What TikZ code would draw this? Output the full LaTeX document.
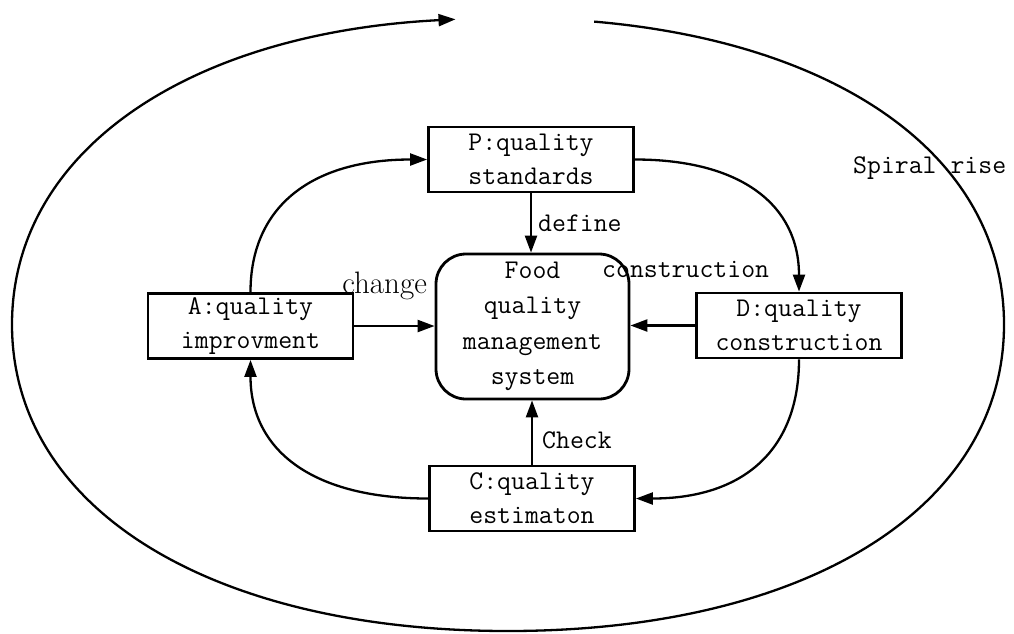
\documentclass[tikz,border=0pt]{standalone}
\usepackage{fontspec}
\usetikzlibrary{arrows.meta}
\newcommand\mymono{\fontsize{27}{34}\selectfont\ttfamily}
\newcommand\mycore{\fontsize{27}{35.5}\selectfont\ttfamily}
\tikzset{
  box/.style={draw, line width=2.8pt, minimum width=205pt, minimum height=65pt, inner sep=0pt, align=center, font=\mymono},
  core/.style={draw, line width=2.8pt, rounded corners=30pt, minimum width=193pt, minimum height=145pt, inner sep=0pt, align=center, font=\mycore},
  arr/.style={line width=2.3pt, -{Triangle[length=17pt,width=12pt]}},
  lbl/.style={inner sep=0pt, font=\mymono},
}
\begin{document}
\begin{tikzpicture}[x=1pt,y=-1pt]
\useasboundingbox (0,0) rectangle (1014,633);
\node[box] (P) at (531,159.5) {P:quality\\standards};
\node[box] (A) at (250.5,326) {A:quality\\improvment};
\node[box] (D) at (799,325.5) {D:quality\\construction};
\node[box] (C) at (532,498.5) {C:quality\\estimaton};
\node[core] (F) at (532.5,326.5) {Food\\quality\\management\\system};
% straight connectors
\draw[arr] (P.south) -- (P.south |- F.north);
\draw[arr] (A.east) -- (A.east -| F.west);
\draw[arr] (D.west) -- (D.west -| F.east);
\draw[arr] (C.north) -- (C.north |- F.south);
% curved cycle
\draw[arr] (A.north) .. controls +(0,-86) and +(-115,0) .. (P.west);
\draw[arr] (P.east) .. controls +(107,0) and +(0,-86) .. (D.north);
\draw[arr] (D.south) .. controls +(0,91) and +(107,0) .. (C.east);
\draw[arr] (C.west) .. controls +(-115,0) and +(0,91) .. (A.south);
% labels
\node[lbl, anchor=base west] (define) at (538,231) {define};
\node[lbl, anchor=base west] (cons) at (602,277) {construction};
\node[lbl, anchor=base west] (check) at (542,448) {Check};
\node[lbl, anchor=base west] (spiral) at (853,173) {Spiral rise};
\node[inner sep=0pt, anchor=base east, font=\fontsize{31}{31}\selectfont\rmfamily] (change) at (427,293) {change};
% spiral
\coordinate (s0) at (594.2,21.6);
\coordinate (s1) at (1004,324.5);
\coordinate (s2) at (508,631);
\coordinate (s3) at (12,324.5);
\coordinate (s4) at (455.5,19.3);
\draw[arr] (s0) .. controls (843.3,43.1) and (1004,159.0) .. (s1)
  .. controls (1004,508.4) and (805.6,631) .. (s2)
  .. controls (210.4,631) and (12,508.4) .. (s3)
  .. controls (12,151.6) and (187.3,32.9) .. (s4);
\end{tikzpicture}
\end{document}
